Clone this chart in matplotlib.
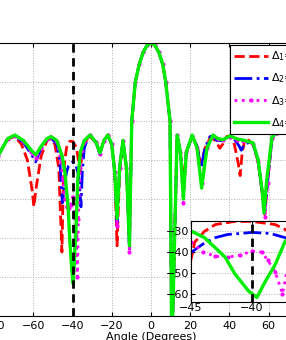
import numpy as np
import matplotlib
matplotlib.use('Agg')
import matplotlib.pyplot as plt

# ---- data (angle in degrees, pattern in dB) ----
ang_d1 = [-78, -73, -69.4, -66, -63, -60.5, -59.7, -58.5, -56, -53, -51, -49, -47, -45.4,
          -44.9, -44.7, -43.9, -43, -41.4, -40, -38.1, -37.3, -36.2, -35, -33, -31,
          -28, -26, -24, -22, -20, -18.5, -17.3, -16, -14.3, -12.5, -11,
          -9.8, -8, -6, -4, -2, 0, 2, 4, 6, 7.5, 9.7, 10.6,
          13.3, 15, 16.5, 18, 21, 23.5, 25.5, 27.5, 30, 31.6, 33.5, 35, 36.5, 38.5, 40.3,
          42.5, 44.5, 45.4, 46.5, 48, 50, 52, 54.6, 56.6, 58, 59.5, 61.7, 64, 70]
val_d1 = [-29, -24.5, -24, -26, -30, -38, -42, -37, -29, -25, -24.5, -26, -32, -53.6,
          -41, -35.2, -30, -26.7, -25.2, -25.2, -26.7, -29, -33, -28, -25, -24,
          -25.5, -28, -25, -23.8, -26, -33, -52, -33, -25.5, -32, -50,
          -20, -10, -5.5, -2.4, -0.6, 0, -0.6, -2.4, -5.5, -10, -20, -80,
          -23.8, -28, -36, -28, -24, -26.5, -31, -27, -24.5, -24.5, -25.5, -27, -26, -24, -23.8,
          -26, -31, -34, -28, -24.5, -25, -26, -30.5, -38, -44, -35, -24.5, -23.3, -23]

ang_d2 = [-78, -73, -69.4, -65, -61, -58.8, -56, -53, -51, -48, -46.5, -45.2,
          -44, -43, -42, -40, -38.5, -37.3, -36.5, -35.7, -35, -34, -32, -31,
          -28, -26, -24, -22, -20, -18.5, -17.3, -16, -14.3, -12.5, -11,
          -9.8, -8, -6, -4, -2, 0, 2, 4, 6, 7.5, 9.7, 10.6,
          13.3, 15, 16.5, 18, 21, 23.5, 25.5, 27.5, 30, 31.6, 33.5, 36.7, 40.3, 43, 45, 46,
          47.5, 50, 52, 54.6, 56.6, 58, 59.5, 61.7, 64, 70]
val_d2 = [-29, -24.5, -23.8, -25.5, -28.5, -30.5, -27, -24.8, -24.3, -26, -30, -41,
          -36, -33, -31.5, -30.5, -31, -33, -36, -42, -33, -27, -24, -23.8,
          -25.5, -28.5, -25, -23.7, -26, -33, -46, -32, -25, -32, -52.5,
          -20, -10, -5.5, -2.4, -0.6, 0, -0.6, -2.4, -5.5, -10, -20, -80,
          -23.7, -28, -38, -28, -23.8, -26.5, -32, -27, -24, -24, -25, -25, -24, -25, -26.5, -27.5,
          -26, -25.5, -26, -30, -38, -43, -35, -24.3, -23.3, -23]

ang_d3 = [-78, -73, -69.4, -65, -61, -58.7, -56, -53, -51, -48, -46, -45, -44, -43, -42,
          -41, -40, -39.2, -38.7, -38.1, -37.5, -37, -36, -34, -31,
          -28, -26, -24, -22, -20, -18.5, -17.3, -16, -14.3, -12.5, -11,
          -9.8, -8, -6, -4, -2, 0, 2, 4, 6, 7.5, 9.7, 10.6,
          13.3, 15, 16.5, 18, 21, 23.5, 25.8, 28.5, 31.6, 34, 36.7, 40.3, 43.9, 47, 52,
          54.6, 56.6, 58, 59.5, 61.7, 64, 70]
val_d3 = [-29, -24.5, -23.8, -25.2, -28, -29.5, -26.8, -24.7, -24.2, -25.5, -30, -35, -40, -42, -42.4,
          -41.5, -39.5, -40, -44, -49.5, -60, -45, -32, -25.5, -23.7,
          -25.5, -28.5, -25, -23.7, -26, -33, -47, -32, -25, -32, -53.6,
          -20, -10, -5.5, -2.4, -0.6, 0, -0.6, -2.4, -5.5, -10, -20, -80,
          -23.7, -28, -41, -28, -23.8, -27, -36, -27, -23.8, -24.5, -24.8, -24, -24.8, -25, -25.8,
          -30.5, -38, -44.6, -36, -24.3, -23.2, -23]

ang_d4 = [-78, -73, -69.4, -65, -61, -58.7, -56, -53, -51, -48, -45.3, -43.9, -42.2,
          -41.4, -40.3, -39.6, -38.9, -38.1, -37.3, -36, -34, -31,
          -28, -26, -24, -22, -20, -18.5, -17.3, -16, -14.3, -12.5, -11,
          -9.8, -8, -6, -4, -2, 0, 2, 4, 6, 7.5, 9.7, 10.6,
          13.3, 15, 16.5, 18, 21, 23.5, 25.8, 28.5, 31.6, 34, 36.7, 40.3, 43.9, 47, 52,
          54.6, 56.6, 57.6, 59, 61.7, 64, 70]
val_d4 = [-29, -24.5, -23.6, -25, -27.5, -28.7, -26.5, -24.5, -24, -25, -29, -33, -42.4,
          -50.5, -58.6, -61.8, -54, -46, -35, -28, -25, -23.6,
          -25.5, -28.2, -25, -23.6, -26, -33, -45, -32, -25, -32, -52,
          -20, -10, -5.5, -2.4, -0.6, 0, -0.6, -2.4, -5.5, -10, -20, -80,
          -23.6, -28, -40, -28, -23.6, -27, -37.2, -27, -23.6, -24.5, -24.8, -23.8, -24.6, -24.9, -25.6,
          -30, -37.7, -43.6, -35, -24, -23.2, -23]

labels = [r'$\Delta_1$=0.5$\lambda$', r'$\Delta_2$=0.4$\lambda$',
          r'$\Delta_3$=0.3$\lambda$', r'$\Delta_4$=0.2$\lambda$']
xticks_main = [-80, -60, -40, -20, 0, 20, 40, 60, 80]
yticks_main = [0, -10, -20, -30, -40, -50, -60, -70]
yticks_inset = [-30, -40, -50, -60]
xticks_inset = [-45, -40]
mark_angle = -40


def draw(ax):
    ax.plot(ang_d1, val_d1, '--', color='red', lw=2, label=labels[0])
    ax.plot(ang_d2, val_d2, '-.', color='blue', lw=2, label=labels[1])
    ax.plot(ang_d3, val_d3, ':', color='magenta', lw=2, marker='.', ms=4, label=labels[2])
    ax.plot(ang_d4, val_d4, '-', color='#00ee00', lw=2.4, label=labels[3])
    ax.axvline(mark_angle, color='black', ls='--', lw=2, dashes=(3, 2))
    ax.grid(True, ls=':', color='#b0b0b0', lw=0.7)
    ax.tick_params(direction='in', top=True, right=True, labelsize=8, length=3)


def main():
    fig = plt.figure(figsize=(2.86, 3.40), dpi=100)
    ax = fig.add_axes([-25.6 / 286, 24 / 340, 353.2 / 286, 273 / 340])
    draw(ax)
    ax.set_xlim(-90, 90)
    ax.set_ylim(-70, 0)
    ax.set_xticks(xticks_main)
    ax.set_yticks(yticks_main)
    ax.set_xlabel('Angle (Degrees)', fontsize=8, labelpad=1)
    leg = ax.legend(loc='upper left', bbox_to_anchor=(230 / 286, 1 - 45 / 340),
                    bbox_transform=fig.transFigure, fontsize=8, numpoints=1,
                    handlelength=3, handletextpad=0.3, labelspacing=0.75,
                    borderaxespad=0, fancybox=False, framealpha=1, edgecolor='black')
    leg.get_frame().set_linewidth(0.8)

    axin = fig.add_axes([191 / 286, 38 / 340, 122 / 286, 81 / 340])
    draw(axin)
    axin.set_xlim(-45, -35)
    axin.set_ylim(-64, -25)
    axin.set_xticks(xticks_inset)
    axin.set_yticks(yticks_inset)
    axin.tick_params(pad=1)

    fig.savefig('out.png', dpi=100)


if __name__ == "__main__":
    main()
